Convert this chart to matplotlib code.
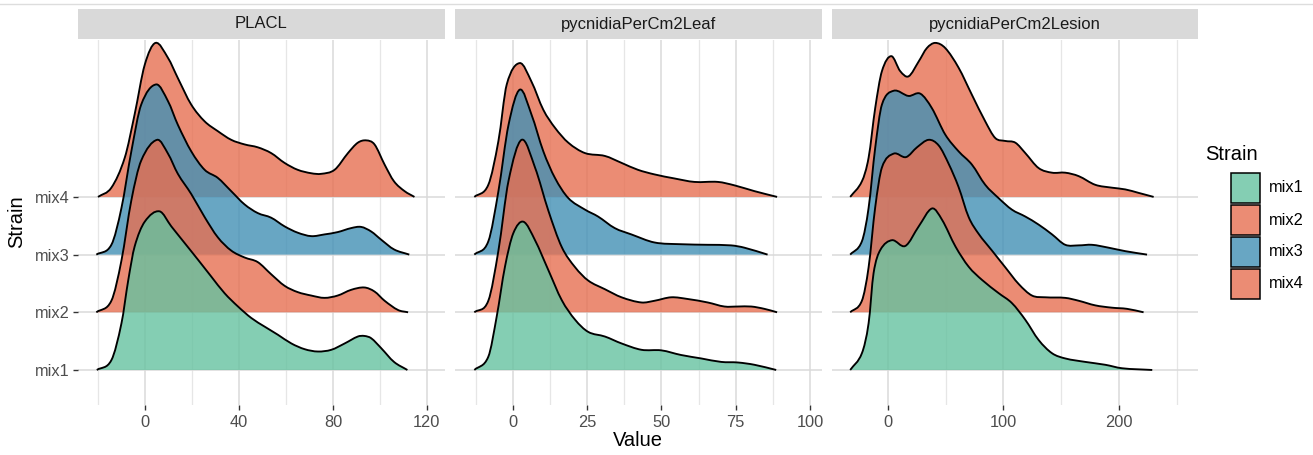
import matplotlib
matplotlib.use("Agg")
import matplotlib.pyplot as plt
import numpy as np
from matplotlib.path import Path
from matplotlib.patches import PathPatch, Rectangle
from matplotlib.lines import Line2D

plt.rcParams['font.family'] = ['Liberation Sans', 'DejaVu Sans']

# --- datos: alturas de las crestas (en unidades de separación entre cepas) ---
strains = ["mix1", "mix2", "mix3", "mix4"]
panels = ["PLACL", "pycnidiaPerCm2Leaf", "pycnidiaPerCm2Lesion"]

placl_mix1_x = [-20.5, -14.3, -10, -7.1, -4.4, -0.1, 6.2, 11.2, 16.9, 22.6, 28.2, 33.9, 39.6, 45.3, 51, 56.6, 62.3, 68, 73.6, 79.3, 85, 90.6, 93.4, 96.3, 100.5, 106, 111.7]
placl_mix1_h = [0, 0.17, 0.81, 1.56, 2.14, 2.57, 2.75, 2.49, 2.2, 1.91, 1.62, 1.33, 1.1, 0.9, 0.75, 0.61, 0.46, 0.36, 0.32, 0.35, 0.46, 0.58, 0.59, 0.55, 0.38, 0.14, 0]
placl_mix2_x = [-20.7, -14.3, -10, -5.8, -1.6, 5.2, 9.8, 14, 19.7, 25.4, 31, 36.7, 42.4, 48, 53.7, 59.4, 65, 70.8, 76.4, 82, 87.8, 93.4, 97.7, 102, 107.7, 112]
placl_mix2_h = [0, 0.2, 0.9, 1.94, 2.63, 2.99, 2.75, 2.4, 2.05, 1.65, 1.3, 1.07, 0.95, 0.87, 0.66, 0.46, 0.35, 0.29, 0.25, 0.29, 0.39, 0.43, 0.36, 0.2, 0.04, 0]
placl_mix3_x = [-20.7, -14.3, -10, -5.8, -1.6, 4.8, 9.8, 14, 19.7, 25.4, 31, 36.7, 42.4, 48, 53.7, 59.4, 65, 70.8, 76.4, 82, 87.8, 92, 96.3, 100.5, 106, 112.5]
placl_mix3_h = [0, 0.17, 0.81, 1.79, 2.6, 2.95, 2.66, 2.25, 1.79, 1.47, 1.33, 1.1, 0.87, 0.72, 0.64, 0.49, 0.38, 0.32, 0.35, 0.39, 0.46, 0.48, 0.4, 0.26, 0.09, 0]
placl_mix4_x = [-20, -14.3, -8.6, -4.4, -0.1, 4.5, 9.8, 14, 19.7, 25.4, 31, 36.7, 42.4, 48, 53.7, 59.4, 65, 70.8, 75, 80.7, 86.4, 90.6, 94.2, 97.7, 102, 106, 110.5, 114.7]
placl_mix4_h = [0, 0.16, 0.68, 1.43, 2.29, 2.67, 2.41, 2.06, 1.6, 1.31, 1.14, 0.99, 0.91, 0.86, 0.76, 0.59, 0.47, 0.41, 0.4, 0.47, 0.76, 0.94, 0.98, 0.91, 0.56, 0.27, 0.1, 0]

leaf_mix1_x = [-12.9, -8.2, -5.4, -2.6, 0.2, 3.6, 7.5, 12, 16.5, 21, 25.4, 31, 36.6, 43.3, 50, 56.6, 63.4, 70.1, 75.7, 81.3, 88.6]
leaf_mix1_h = [0, 0.23, 0.92, 1.79, 2.37, 2.57, 2.25, 1.73, 1.21, 0.87, 0.66, 0.58, 0.46, 0.35, 0.34, 0.26, 0.2, 0.14, 0.13, 0.09, 0]
leaf_mix2_x = [-12.9, -8.2, -4.8, -1.4, 3, 7.5, 12, 16.5, 21, 25.4, 31, 36.6, 43.3, 47.7, 53.3, 58.9, 65.6, 71.2, 75.7, 80.2, 84.6, 88.9]
leaf_mix2_h = [0, 0.2, 1.07, 2.28, 2.99, 2.51, 1.76, 1.13, 0.78, 0.55, 0.4, 0.26, 0.17, 0.2, 0.26, 0.23, 0.17, 0.1, 0.1, 0.1, 0.06, 0]
leaf_mix3_x = [-12.9, -8.2, -4.8, -1.4, 2.4, 6.3, 10.3, 14.2, 18.7, 24.3, 28.7, 34.3, 39.9, 47.7, 56.6, 65.6, 73.4, 77.9, 85.7]
leaf_mix3_h = [0, 0.23, 1.1, 2.25, 2.86, 2.43, 1.79, 1.33, 0.98, 0.78, 0.66, 0.46, 0.35, 0.21, 0.18, 0.17, 0.16, 0.12, 0]
leaf_mix4_x = [-12.9, -8.2, -4.8, -2.0, 2.4, 6.3, 10.3, 14.2, 18.7, 24.3, 31, 36.6, 42.1, 47.7, 54.4, 61.1, 69, 74.6, 81.3, 88.9]
leaf_mix4_h = [0, 0.21, 0.97, 1.95, 2.32, 2.0, 1.51, 1.2, 0.94, 0.76, 0.71, 0.59, 0.47, 0.39, 0.32, 0.26, 0.26, 0.2, 0.1, 0]

lesion_mix1_x = [-32.3, -22.2, -16.4, -12.1, -6.3, 3.8, 15.3, 26.9, 38.4, 47.1, 58.6, 70, 81.6, 96, 107.3, 118.9, 130.4, 142, 153.4, 170.7, 188, 202.4, 228.5]
lesion_mix1_h = [0, 0.29, 0.81, 1.68, 2.08, 2.25, 2.15, 2.49, 2.8, 2.6, 2.14, 1.79, 1.56, 1.33, 1.16, 0.87, 0.52, 0.29, 0.2, 0.14, 0.09, 0.03, 0]
lesion_mix2_x = [-32.3, -22.2, -16.4, -10.7, -4.9, 5.2, 15.9, 25.4, 35.5, 44.2, 52.8, 61.3, 70, 78.6, 90.1, 101.6, 113.2, 124.7, 136.2, 153.4, 165, 179.3, 193.7, 206.7, 221]
lesion_mix2_h = [0, 0.2, 0.78, 1.82, 2.51, 2.75, 2.69, 2.86, 2.99, 2.89, 2.57, 2.17, 1.65, 1.36, 1.07, 0.78, 0.49, 0.29, 0.26, 0.25, 0.2, 0.12, 0.08, 0.06, 0]
lesion_mix3_x = [-32.3, -22.2, -16.4, -10.7, -4.9, 5.2, 18.1, 28.2, 38.2, 49.8, 61.3, 72.8, 84.3, 95.8, 107.3, 118.9, 130.4, 142, 153.4, 165, 176.4, 190.8, 205.2, 224]
lesion_mix3_h = [0, 0.23, 0.81, 1.85, 2.6, 2.84, 2.75, 2.79, 2.54, 2.08, 1.79, 1.56, 1.21, 0.98, 0.78, 0.66, 0.52, 0.35, 0.17, 0.16, 0.17, 0.12, 0.06, 0]
lesion_mix4_x = [-32.3, -22.2, -16.4, -10.7, -4.9, 3.2, 10.9, 18.1, 26.9, 33.9, 41.1, 49.8, 61.3, 72.8, 84.3, 93, 101.6, 110.3, 118.9, 130.4, 142, 153.4, 165, 179.3, 193.7, 205.2, 216.7, 229.7]
lesion_mix4_h = [0, 0.27, 0.68, 1.54, 2.18, 2.44, 2.18, 2.09, 2.35, 2.58, 2.67, 2.58, 2.24, 1.77, 1.31, 1.02, 0.97, 0.94, 0.76, 0.5, 0.42, 0.42, 0.36, 0.21, 0.16, 0.13, 0.07, 0]

ridges = {
    "PLACL": [(placl_mix1_x, placl_mix1_h), (placl_mix2_x, placl_mix2_h),
              (placl_mix3_x, placl_mix3_h), (placl_mix4_x, placl_mix4_h)],
    "pycnidiaPerCm2Leaf": [(leaf_mix1_x, leaf_mix1_h), (leaf_mix2_x, leaf_mix2_h),
                           (leaf_mix3_x, leaf_mix3_h), (leaf_mix4_x, leaf_mix4_h)],
    "pycnidiaPerCm2Lesion": [(lesion_mix1_x, lesion_mix1_h), (lesion_mix2_x, lesion_mix2_h),
                             (lesion_mix3_x, lesion_mix3_h), (lesion_mix4_x, lesion_mix4_h)],
}

major_ticks = [[0, 40, 80, 120], [0, 25, 50, 75, 100], [0, 100, 200]]
minor_ticks = [[-20, 20, 60, 100], [-12.5, 12.5, 37.5, 62.5, 87.5], [50, 150, 250]]
xlims = [(-28.5, 127.7), (-19.4, 104.0), (-48.0, 268.0)]

colores = ["#66C2A0", "#E76F51", "#4290B5", "#E76F51"]
ALPHA = 0.8

W, H = 1313, 455


def caja(x0, y0, x1, y1):
    return [x0 / W, 1 - y1 / H, (x1 - x0) / W, (y1 - y0) / H]


def curva_suave(xs, ys):
    # tramos de Hermite cúbico (como Bézier) que pasan por los puntos leídos
    x = np.asarray(xs, float)
    y = np.asarray(ys, float)
    n = len(x)
    m = np.zeros(n)
    m[0] = (y[1] - y[0]) / (x[1] - x[0])
    m[-1] = (y[-1] - y[-2]) / (x[-1] - x[-2])
    for i in range(1, n - 1):
        m[i] = (y[i + 1] - y[i - 1]) / (x[i + 1] - x[i - 1])
    verts = [(x[0], y[0])]
    codes = [Path.MOVETO]
    for i in range(n - 1):
        d = (x[i + 1] - x[i]) / 3
        verts += [(x[i] + d, y[i] + m[i] * d),
                  (x[i + 1] - d, y[i + 1] - m[i + 1] * d),
                  (x[i + 1], y[i + 1])]
        codes += [Path.CURVE4] * 3
    return verts, codes


fig = plt.figure(figsize=(W / 100, H / 100), dpi=100)
fig.add_artist(Line2D([0, 1], [1 - 4 / H, 1 - 4 / H], color="#DDDDDD", lw=1))

paneles_x = [(78, 445), (455, 822), (832, 1198)]
for k, nombre in enumerate(panels):
    x0, x1 = paneles_x[k]
    ax = fig.add_axes(caja(x0, 40, x1, 405))
    ax.set_xlim(*xlims[k])
    ax.set_ylim(0.393, 6.72)
    for s in ax.spines.values():
        s.set_visible(False)

    for v in minor_ticks[k]:
        ax.axvline(v, color="#E6E6E6", lw=0.9, zorder=0)
    for v in major_ticks[k]:
        ax.axvline(v, color="#DADADA", lw=1.1, zorder=0)
    for j in range(len(strains)):
        ax.axhline(j + 1, color="#DADADA", lw=1.1, zorder=0)

    # de arriba hacia abajo, para que las de abajo queden encima
    for j in range(len(strains) - 1, -1, -1):
        xs, hs = ridges[nombre][j]
        base = j + 1
        verts, codes = curva_suave(xs, np.array(hs) + base)
        relleno = verts + [(xs[-1], base), (xs[0], base), (xs[0], base)]
        cod_rel = codes + [Path.LINETO, Path.LINETO, Path.CLOSEPOLY]
        z = 10 + (len(strains) - j) * 2
        ax.add_patch(PathPatch(Path(relleno, cod_rel), facecolor=colores[j],
                               alpha=ALPHA, edgecolor="none", zorder=z))
        ax.add_patch(PathPatch(Path(verts, codes), facecolor="none",
                               edgecolor="black", lw=1.35, zorder=z + 1))

    ax.set_xticks(major_ticks[k])
    ax.set_xticklabels([str(t) for t in major_ticks[k]])
    ax.tick_params(axis="x", length=3.5, width=1, color="#333333", pad=3.5,
                   labelsize=11.8, labelcolor="#4D4D4D")
    if k == 0:
        ax.set_yticks([1, 2, 3, 4])
        ax.set_yticklabels(strains)
        ax.tick_params(axis="y", length=3.5, width=1, color="#333333", pad=2.5,
                       labelsize=11.8, labelcolor="#4D4D4D")
    else:
        ax.set_yticks([])

    # tira del facet
    sax = fig.add_axes(caja(x0, 9, x1, 39))
    sax.set_xticks([])
    sax.set_yticks([])
    sax.set_facecolor("#D9D9D9")
    for s in sax.spines.values():
        s.set_visible(False)
    sax.text(0.5, 0.5, nombre, ha="center", va="center", fontsize=12,
             color="#1A1A1A", transform=sax.transAxes)

fig.text(638 / W, 1 - 440 / H, "Value", ha="center", va="center", fontsize=14.5)
fig.text(17 / W, 1 - 222 / H, "Strain", ha="center", va="center", fontsize=14.5, rotation=90)

# leyenda
fig.text(1205 / W, 1 - 155 / H, "Strain", ha="left", va="center", fontsize=14.5)
for j, s in enumerate(strains):
    y0 = 173 + 32 * j
    fig.add_artist(Rectangle((1231 / W, 1 - (y0 + 30) / H), 29 / W, 30 / H,
                             facecolor=colores[j], alpha=ALPHA, edgecolor="none",
                             transform=fig.transFigure))
    fig.add_artist(Rectangle((1231 / W, 1 - (y0 + 30) / H), 29 / W, 30 / H,
                             facecolor="none", edgecolor="black", lw=1.1,
                             transform=fig.transFigure))
    fig.text(1269 / W, 1 - (y0 + 15) / H, s, ha="left", va="center",
             fontsize=11.8, color="black")

plt.savefig("out.png", dpi=100)
